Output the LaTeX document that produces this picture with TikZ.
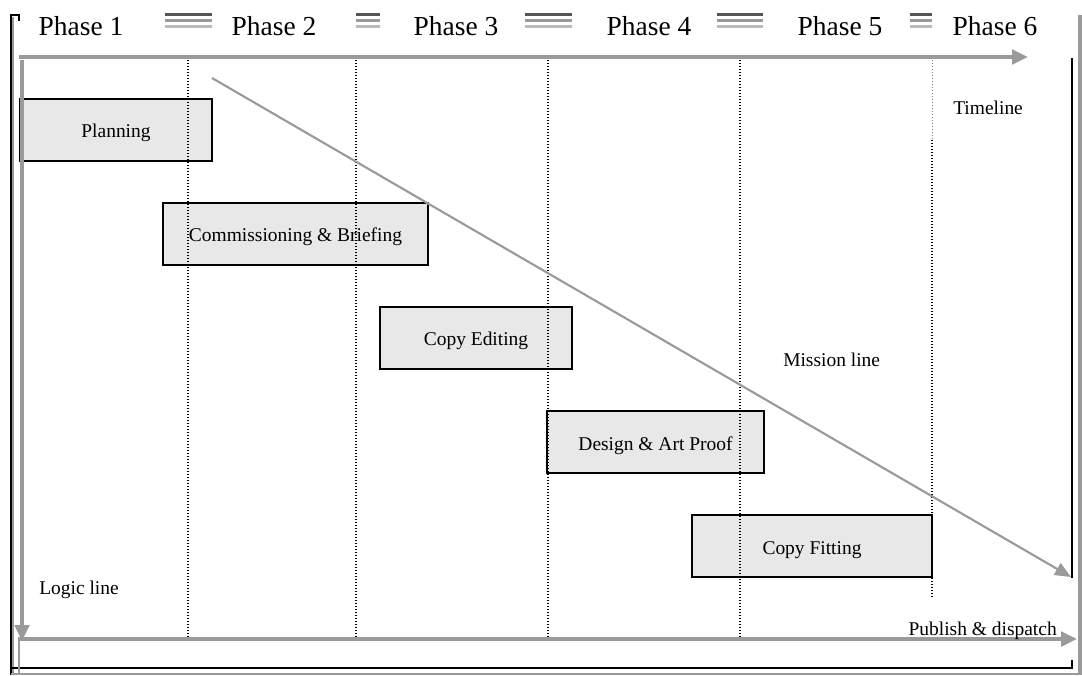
\documentclass[tikz,border=0pt]{standalone}
\usepackage{fontspec}
\setmainfont{Liberation Serif}
\usetikzlibrary{arrows.meta}

\definecolor{boxgray}{HTML}{E8E8E8}
\definecolor{flowgray}{HTML}{9A9A9A}
\definecolor{rule1}{HTML}{555555}
\definecolor{rule2}{HTML}{999999}
\definecolor{rule3}{HTML}{BBBBBB}

\begin{document}
\begin{tikzpicture}[x=0.75pt,y=-0.75pt,
  stage/.style={draw=black,line width=1.5pt,fill=boxgray,inner sep=0pt,
    minimum height=46.5pt,text height=12pt,text depth=0pt,
    font=\fontsize{14.6}{17}\selectfont},
  phase/.style={anchor=base,inner sep=0pt,font=\fontsize{20.6}{24}\selectfont},
  note/.style={inner sep=0pt,font=\fontsize{14.6}{17}\selectfont},
  flow/.style={draw=flowgray,line width=2.6pt,
    -{Triangle[length=12pt,width=11pt]}},
  mission/.style={draw=flowgray,line width=1.6pt,
    -{Triangle[length=12pt,width=10pt]}},
  divider/.style={line width=1pt,dash pattern=on 0.75pt off 1.5pt},
  frame/.style={line width=0.9pt},
]
\useasboundingbox (0,0) rectangle (1082,675);

% outer frame
\draw[frame,black] (19,21) -- (19,15) -- (11,15) -- (11,675);
\draw[frame,flowgray,line width=1.2pt] (13,17) -- (13,675);
\draw[draw=flowgray,line width=3.5pt] (1080,15) -- (1080,675);
\draw[frame,black] (1072,58) -- (1072,578);
\draw[frame,black] (11,668) -- (1072,668) -- (1072,660);
\draw[frame,flowgray,line width=1.2pt] (11,674) -- (1078,674);
\draw[frame,flowgray,line width=1.2pt] (19,640) -- (19,675);

% phase headers
\node[phase] (p1) at (81,35) {Phase 1};
\node[phase] (p2) at (274,35) {Phase 2};
\node[phase] (p3) at (456,35) {Phase 3};
\node[phase] (p4) at (649,35) {Phase 4};
\node[phase] (p5) at (840,35) {Phase 5};
\node[phase] (p6) at (995,35) {Phase 6};

% triple rules between the headers
\foreach \a/\b in {165/212, 356/380, 525/572, 717/763, 910/932}{
  \draw[rule1,line width=1.6pt] (\a,14.5) -- (\b,14.5);
  \draw[rule2,line width=1.6pt] (\a,20.5) -- (\b,20.5);
  \draw[rule3,line width=1.6pt] (\a,26.5) -- (\b,26.5);
}

% task boxes
\node[stage,minimum width=144pt] (plan) at (116,129.5) {Planning};
\node[stage,minimum width=198.75pt] (brief) at (295.5,233.5) {Commissioning \& Briefing};
\node[stage,minimum width=144pt] (edit) at (476,337.5) {Copy Editing};
\node[stage,minimum width=162.75pt] (art) at (655.5,442) {Design \& Art Proof};
\node[stage,minimum width=180pt] (fit) at (812,546) {Copy Fitting};

% phase boundaries
\foreach \x in {188,356,548,740}{
  \draw[divider] (\x,60) -- (\x,639);
}
\draw[divider,gray,line width=0.5pt] (932,60) -- (932,140);
\draw[divider] (932,140) -- (932,597);

% flow lines
\coordinate (tl-a) at (19,57);
\coordinate (tl-b) at (1028,57);
\coordinate (lg-a) at (22,60);
\coordinate (lg-b) at (22,641);
\coordinate (pd-a) at (18,639);
\coordinate (pd-b) at (1077,639);
\coordinate (ms-a) at (212,78);
\coordinate (ms-b) at (1071,577);
\draw[flow] (tl-a) -- (tl-b);
\draw[flow] (lg-a) -- (lg-b);
\draw[flow] (pd-a) -- (pd-b);
\draw[mission] (ms-a) -- (ms-b);

% labels
\node[note,anchor=base west] (timeline) at (953,114) {Timeline};
\node[note,anchor=base west] (missionlbl) at (783,366) {Mission line};
\node[note,anchor=base west] (logic) at (39,594) {Logic line};
\node[note,anchor=base east] (publish) at (1057,635) {Publish \& dispatch};
\end{tikzpicture}
\end{document}
